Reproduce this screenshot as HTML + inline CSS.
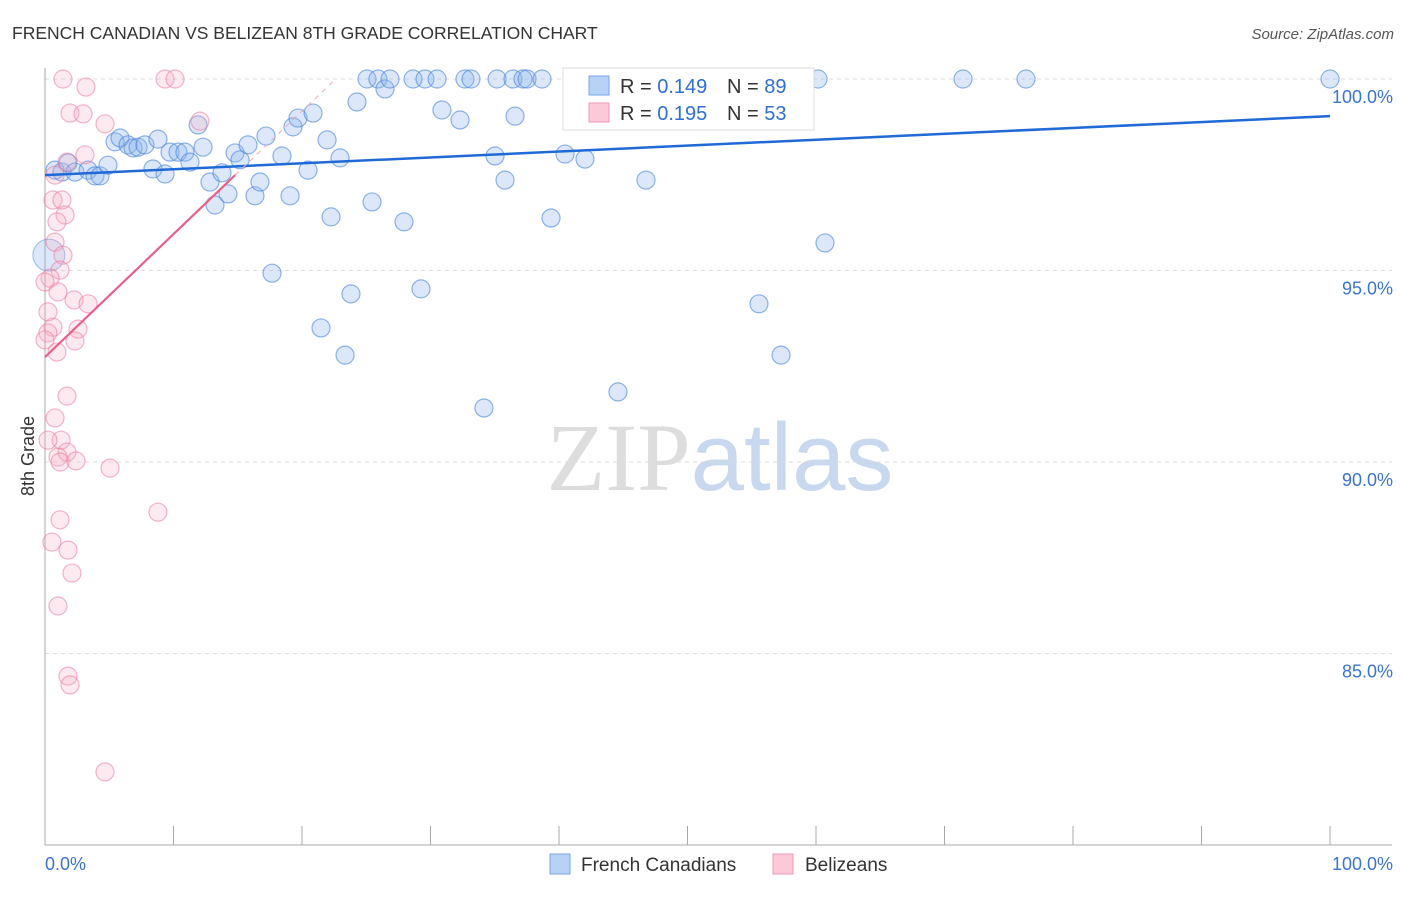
<!DOCTYPE html>
<html><head><meta charset="utf-8"><style>
body{margin:0;background:#fff;font-family:"Liberation Sans",sans-serif;}
svg text{font-family:"Liberation Sans",sans-serif;}
</style></head><body>
<svg id="chart" width="1406" height="892" xmlns="http://www.w3.org/2000/svg">
<text x="12" y="39" font-size="17.5" fill="#333">FRENCH CANADIAN VS BELIZEAN 8TH GRADE CORRELATION CHART</text>
<text x="1394" y="39" font-size="15" fill="#555" text-anchor="end" font-style="italic">Source: ZipAtlas.com</text>
<text x="720" y="490" font-size="96" text-anchor="middle"><tspan fill="#ddd" font-family="Liberation Serif">ZIP</tspan><tspan fill="#c8d8ee">atlas</tspan></text>
<g id="grid"></g>
<g id="pts"></g>
<g id="lines"></g>
<text transform="translate(34,456) rotate(-90)" font-size="18" fill="#333" text-anchor="middle">8th Grade</text>
<g>
<rect x="563" y="68" width="251" height="62" fill="#fff" stroke="#ddd"/>
<rect x="589" y="76" width="20" height="19" fill="#b7d2f5" stroke="#7aa8e6"/>
<rect x="589" y="103" width="20" height="19" fill="#fbc9d7" stroke="#f29ab4"/>
<text x="620" y="93" font-size="20" fill="#333">R = <tspan fill="#2e6fd1">0.149</tspan></text>
<text x="727" y="93" font-size="20" fill="#333">N = <tspan fill="#2e6fd1">89</tspan></text>
<text x="620" y="120" font-size="20" fill="#333">R = <tspan fill="#2e6fd1">0.195</tspan></text>
<text x="727" y="120" font-size="20" fill="#333">N = <tspan fill="#2e6fd1">53</tspan></text>
</g>
<g>
<rect x="550" y="854" width="20" height="20" fill="#b7d2f5" stroke="#7aa8e6"/>
<text x="581" y="871" font-size="19" fill="#333">French Canadians</text>
<rect x="773" y="854" width="20" height="20" fill="#fbc9d7" stroke="#f29ab4"/>
<text x="805" y="871" font-size="19" fill="#333">Belizeans</text>
</g>
</svg>
<script>
const blueX=[0.78,1.32,1.79,2.33,3.35,3.89,4.28,4.9,5.45,5.84,6.46,6.85,7.24,7.78,8.4,8.79,9.34,9.73,10.35,10.89,11.28,11.91,12.3,12.84,13.23,13.77,14.24,14.79,15.18,15.8,16.34,16.73,17.2,17.67,18.44,19.07,19.3,19.69,20.47,20.86,21.48,21.95,22.26,22.96,23.35,23.81,24.28,25.06,25.45,25.91,26.46,26.85,27.94,28.64,29.26,29.57,30.51,30.89,32.3,32.68,33.15,34.16,35.02,35.18,35.8,36.42,36.58,37.2,37.51,38.68,39.38,40.47,42.02,44.59,46.77,47.86,50.19,55.56,57.28,58.13,60.16,60.7,71.44,76.34,100];
const blueY=[97.62,97.57,97.81,97.57,97.62,97.47,97.47,97.75,98.36,98.46,98.28,98.2,98.22,98.28,97.65,98.43,97.52,98.09,98.09,98.09,97.83,98.8,98.22,97.31,96.71,97.55,97.0,98.07,97.89,98.28,96.95,97.31,98.51,94.93,97.99,96.95,98.75,98.98,97.62,99.11,93.5,98.41,96.4,97.94,92.79,94.39,99.4,100,96.79,100,99.74,100,96.27,100,94.52,100,100,99.19,98.93,100,100,91.41,97.99,100,97.36,100,99.03,100,100,100,96.37,98.04,97.91,91.83,97.36,100,100,94.13,92.79,100,100,95.72,100,100,100];
const pinkX=[1.4,9.34,10.12,3.19,1.95,2.96,4.67,12.06,3.11,1.71,0.78,0.62,1.32,1.56,0.93,0.78,1.4,1.17,0.39,0,1.01,2.26,3.35,0.23,0.62,2.57,0.23,0,2.33,0.93,1.71,0.78,1.25,0.23,1.71,1.01,1.17,2.41,5.06,8.79,1.17,0.54,1.79,2.1,1.01,1.79,1.95,4.67];
const pinkY=[100,100,100,99.79,99.11,99.09,98.83,98.9,98.02,97.83,97.49,96.84,96.84,96.45,96.27,95.74,95.4,95.01,94.8,94.7,94.44,94.23,94.13,93.92,93.52,93.47,93.37,93.19,93.16,92.87,91.72,91.15,90.57,90.57,90.26,90.13,90.0,90.03,89.84,88.69,88.49,87.91,87.7,87.1,86.24,84.41,84.18,81.91];
const yTicks=[100,95,90,85];
const yTickLabels=["100.0%","95.0%","90.0%","85.0%"];
const xTicks=[0,10,20,30,40,50,60,70,80,90,100];
const blueTrend=[97.49,99.03];
const pinkTrend=[92.74,0.321];
const NS="http://www.w3.org/2000/svg";
const sx=v=>45+v*12.85, sy=v=>79+(100-v)*38.3;
function mk(p,tag,a){const e=document.createElementNS(NS,tag);for(const k in a)e.setAttribute(k,a[k]);p.appendChild(e);return e;}
const g=document.getElementById('grid'),P=document.getElementById('pts'),L=document.getElementById('lines');
yTicks.forEach((t,i)=>{
 const l=mk(g,'line',{x1:45,x2:1392,y1:sy(t),y2:sy(t),stroke:'#ddd','stroke-dasharray':'4,4'});
 
 
 const tx=mk(g,'text',{x:1393,y:sy(t)+24,'font-size':18,fill:'#3a74cf','text-anchor':'end'});tx.textContent=yTickLabels[i];
 
 
});
mk(g,'line',{x1:45,x2:45,y1:68,y2:845,stroke:'#aaa'});
mk(g,'line',{x1:45,x2:1392,y1:845,y2:845,stroke:'#aaa'});
xTicks.forEach(t=>{const l=mk(g,'line',{x1:sx(t),x2:sx(t),y1:826,y2:845,stroke:'#aaa'});
 
 });
const x0=mk(g,'text',{x:45,y:870,'font-size':18,fill:'#3a74cf'});x0.textContent='0.0%';


const x1=mk(g,'text',{x:1393,y:870,'font-size':18,fill:'#3a74cf','text-anchor':'end'});x1.textContent='100.0%';


const big=mk(P,'circle',{cx:sx(0.3),cy:sy(95.4),r:16,fill:'rgba(140,180,235,0.3)',stroke:'rgba(70,130,220,0.5)'});


blueX.forEach((x,i)=>{const c=mk(P,'circle',{cx:sx(x),cy:sy(blueY[i]),r:9,fill:'rgba(140,180,235,0.3)',stroke:'rgba(70,130,220,0.6)','stroke-width':1.2});
 
 });
pinkX.forEach((x,i)=>{const c=mk(P,'circle',{cx:sx(x),cy:sy(pinkY[i]),r:9,fill:'rgba(245,170,195,0.25)',stroke:'rgba(235,120,155,0.55)','stroke-width':1.2});
 
 });
const bl=mk(L,'line',{x1:sx(0),y1:sy(blueTrend[0]),x2:sx(100),y2:sy(blueTrend[1]),stroke:'#1f6ad6','stroke-width':2.5});


const xe=(100-pinkTrend[0])/pinkTrend[1];
const pl=mk(L,'line',{x1:sx(0),y1:sy(pinkTrend[0]),x2:sx(14.8),y2:sy(pinkTrend[0]+pinkTrend[1]*14.8),stroke:'#e8608a','stroke-width':2.2});


const pd=mk(L,'line',{x1:sx(14.8),y1:sy(pinkTrend[0]+pinkTrend[1]*14.8),x2:sx(xe),y2:sy(100),stroke:'#f0a8bd','stroke-width':1,'stroke-dasharray':'5,5'});


</script>
</body></html>
